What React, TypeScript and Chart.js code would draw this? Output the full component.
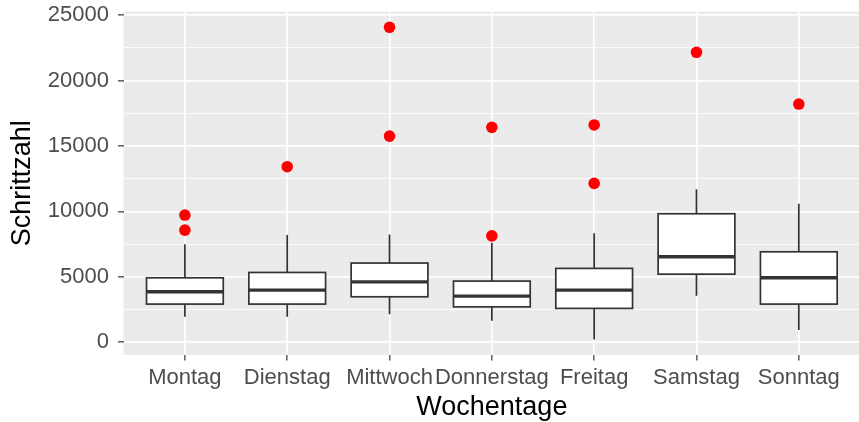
import React, { useEffect, useRef } from "react";
import { Chart, registerables } from "chart.js";

Chart.register(...registerables);

const categories = ["Montag", "Dienstag", "Mittwoch", "Donnerstag", "Freitag", "Samstag", "Sonntag"];
const lowerWhisker = [1940, 1940, 2140, 1630, 210, 3540, 920];
const q1 = [2910, 2910, 3470, 2700, 2580, 5200, 2910];
const median = [3850, 3980, 4610, 3520, 3980, 6530, 4920];
const q3 = [4920, 5330, 6050, 4670, 5640, 9820, 6910];
const upperWhisker = [7480, 8190, 8240, 7600, 8320, 11690, 10580];
const outliers = [[9720, 8570], [13420], [24080, 15760], [16430, 8130], [16610, 12140], [22170], [18210]];
const yTickValues = [0, 2500, 5000, 7500, 10000, 12500, 15000, 17500, 20000, 22500, 25000];

const FONT = "'Liberation Sans', Arial, Helvetica, sans-serif";
const BOX_WIDTH = 0.75;
const LINE = "#333333";

const allValues = [...lowerWhisker, ...upperWhisker, ...outliers.flat()];
const dMin = Math.min(...allValues);
const dMax = Math.max(...allValues);
const yMin = dMin - 0.05 * (dMax - dMin);
const yMax = dMax + 0.05 * (dMax - dMin);

const panelPlugin = {
  id: "panel",
  beforeDraw(chart: any) {
    const { ctx, chartArea } = chart;
    ctx.save();
    ctx.fillStyle = "#EBEBEB";
    ctx.fillRect(chartArea.left, chartArea.top, chartArea.right - chartArea.left, chartArea.bottom - chartArea.top);
    ctx.restore();
  },
};

const boxPlugin = {
  id: "boxes",
  beforeDatasetsDraw(chart: any) {
    const { ctx } = chart;
    const x = chart.scales.x;
    const y = chart.scales.y;
    ctx.save();
    ctx.strokeStyle = LINE;
    categories.forEach((_, i) => {
      const xc = x.getPixelForValue(i);
      const xl = x.getPixelForValue(i - BOX_WIDTH / 2);
      const xr = x.getPixelForValue(i + BOX_WIDTH / 2);
      const yLo = y.getPixelForValue(lowerWhisker[i]);
      const yQ1 = y.getPixelForValue(q1[i]);
      const yMed = y.getPixelForValue(median[i]);
      const yQ3 = y.getPixelForValue(q3[i]);
      const yHi = y.getPixelForValue(upperWhisker[i]);
      ctx.lineWidth = 1.7;
      ctx.beginPath();
      ctx.moveTo(xc, yQ3);
      ctx.lineTo(xc, yHi);
      ctx.moveTo(xc, yQ1);
      ctx.lineTo(xc, yLo);
      ctx.stroke();
      ctx.fillStyle = "#FFFFFF";
      ctx.fillRect(xl, yQ3, xr - xl, yQ1 - yQ3);
      ctx.strokeRect(xl, yQ3, xr - xl, yQ1 - yQ3);
      ctx.lineWidth = 3.4;
      ctx.beginPath();
      ctx.moveTo(xl, yMed);
      ctx.lineTo(xr, yMed);
      ctx.stroke();
    });
    ctx.restore();
  },
};

export default function App() {
  const ref = useRef<HTMLCanvasElement | null>(null);

  useEffect(() => {
    if (!ref.current) return;
    const points: { x: number; y: number }[] = [];
    outliers.forEach((arr, i) => arr.forEach((v) => points.push({ x: i, y: v })));

    const chart = new Chart(ref.current, {
      type: "scatter",
      data: {
        datasets: [
          {
            label: "Ausreißer",
            data: points,
            backgroundColor: "#FF0000",
            borderWidth: 0,
            pointRadius: 5.8,
            pointHoverRadius: 5.8,
          },
        ],
      },
      options: {
        animation: false,
        responsive: false,
        devicePixelRatio: 1,
        layout: { padding: { top: 11.7, left: 0, right: 0, bottom: 0 } },
        plugins: { legend: { display: false }, tooltip: { enabled: false } },
        scales: {
          x: {
            type: "linear",
            min: -0.6,
            max: categories.length - 1 + 0.6,
            afterBuildTicks: (scale: any) => {
              scale.ticks = categories.map((_, i) => ({ value: i }));
            },
            afterFit: (scale: any) => {
              scale.height = 67;
              scale.paddingLeft = 0;
              scale.paddingRight = 0;
            },
            ticks: {
              autoSkip: false,
              maxRotation: 0,
              minRotation: 0,
              padding: 4.4,
              color: "#4D4D4D",
              font: { family: FONT, size: 22 },
              callback: (v: any) => categories[Math.round(Number(v))] ?? "",
            },
            grid: {
              color: "#FFFFFF",
              lineWidth: 1.7,
              drawTicks: true,
              tickLength: 5.5,
              tickColor: LINE,
              tickWidth: 1.2,
            },
            border: { display: false },
            title: {
              display: true,
              text: "Wochentage",
              color: "#000000",
              font: { family: FONT, size: 27, lineHeight: 1 },
              padding: { top: 0, bottom: 1.2 },
            },
          },
          y: {
            type: "linear",
            min: yMin,
            max: yMax,
            afterBuildTicks: (scale: any) => {
              scale.ticks = yTickValues.map((v) => ({ value: v }));
            },
            afterFit: (scale: any) => {
              scale.width = 123.5;
              scale.paddingTop = 0;
              scale.paddingBottom = 0;
            },
            ticks: {
              autoSkip: false,
              padding: 9,
              color: "#4D4D4D",
              font: { family: FONT, size: 22 },
              callback: (v: any) => (Number(v) % 5000 === 0 ? String(v) : ""),
            },
            grid: {
              color: "#FFFFFF",
              lineWidth: (c: any) => (c.tick && c.tick.value % 5000 === 0 ? 1.7 : 0.85),
              drawTicks: true,
              tickLength: 5.5,
              tickColor: (c: any) => (c.tick && c.tick.value % 5000 === 0 ? LINE : "rgba(0,0,0,0)"),
              tickWidth: 1.2,
            },
            border: { display: false },
            title: {
              display: true,
              text: "Schrittzahl",
              color: "#000000",
              font: { family: FONT, size: 27, lineHeight: 1 },
              padding: { top: 8.8, bottom: 0 },
            },
          },
        },
      },
      plugins: [panelPlugin, boxPlugin],
    });
    return () => chart.destroy();
  }, []);

  return (
    <div
      style={{
        position: "absolute",
        left: 0,
        top: 0,
        width: 859,
        height: 422,
        overflow: "hidden",
        background: "#FFFFFF",
      }}
    >
      <canvas ref={ref} width={866} height={422} style={{ display: "block", width: 866, height: 422 }} />
    </div>
  );
}
